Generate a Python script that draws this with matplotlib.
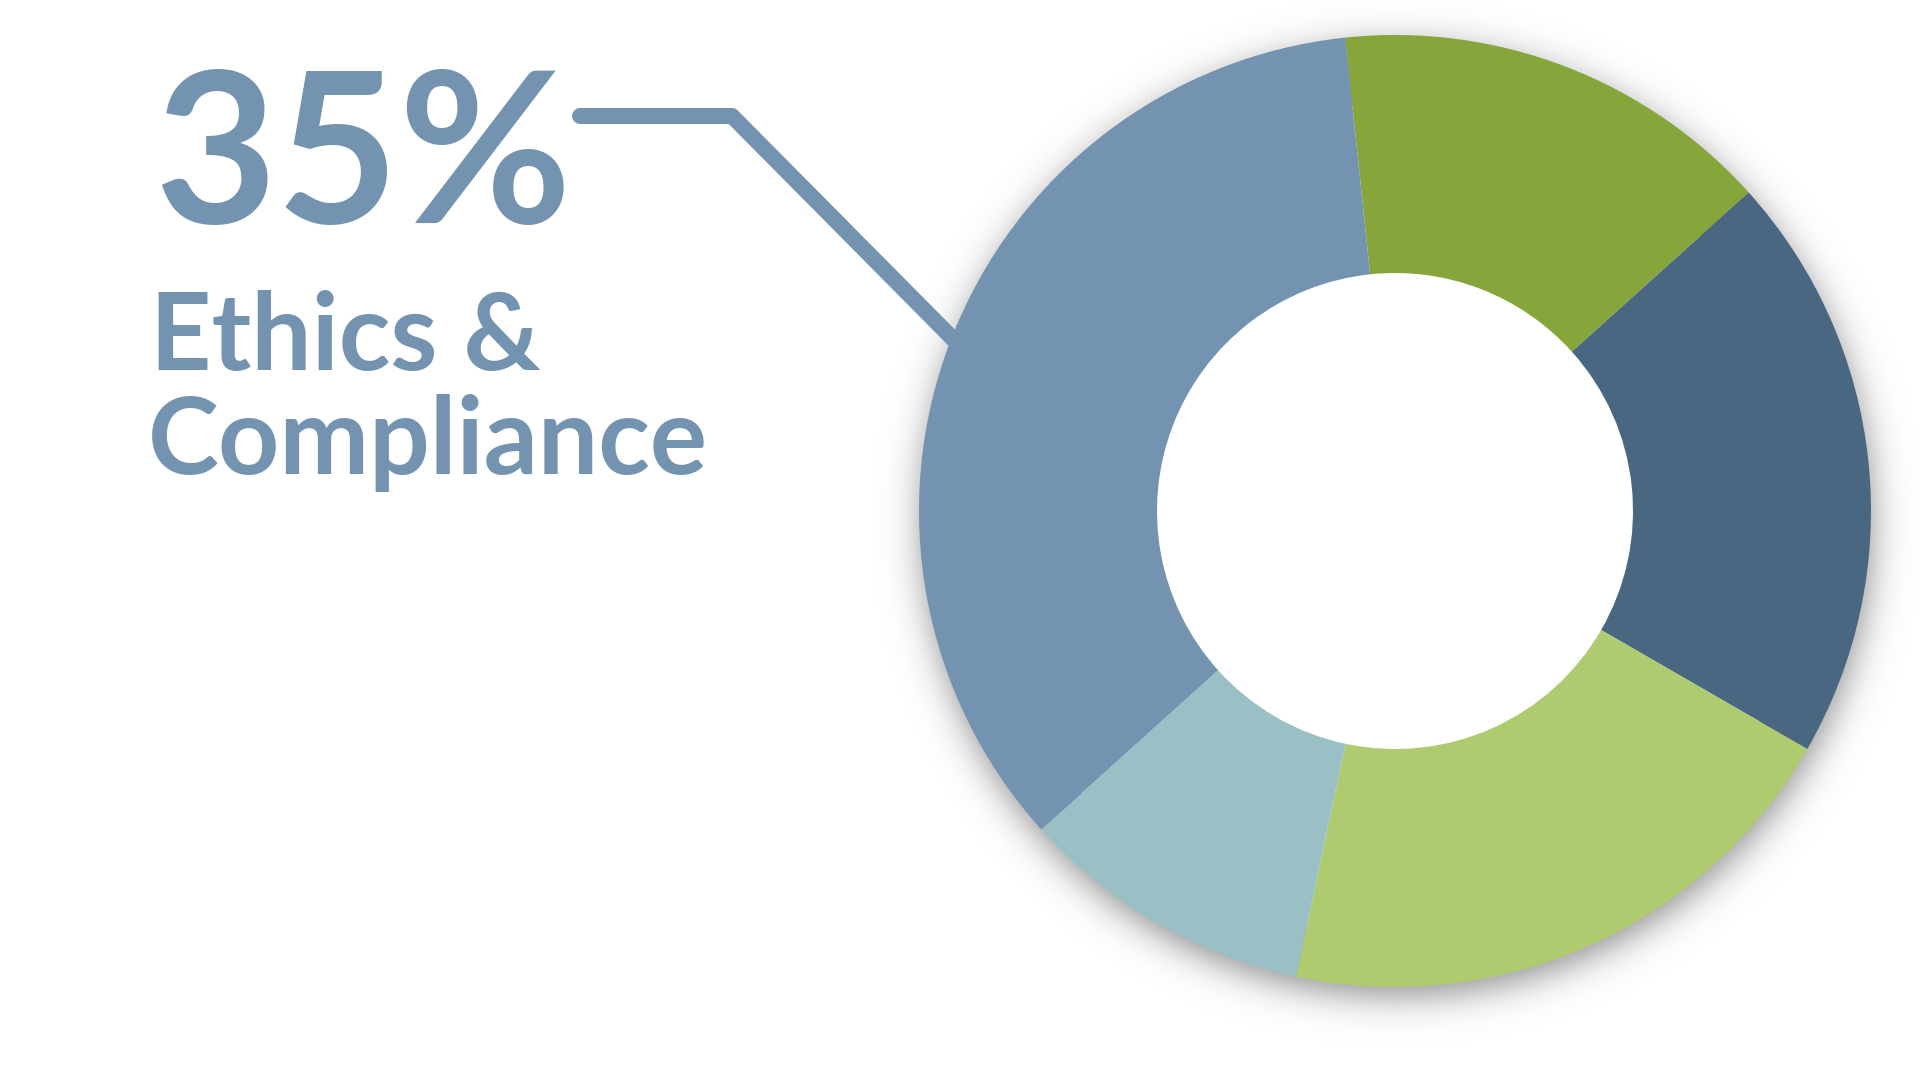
import numpy as np
import matplotlib
matplotlib.use("Agg")
import matplotlib.pyplot as plt

# -------------------------------
# Datos
# -------------------------------
valores = [15, 20, 20, 10, 35]
colores = ["#86A63C", "#4A6782", "#AFCB6F", "#9ABFC4", "#7493B0"]
destacado = "35%"
etiqueta = ["Ethics &", "Compliance"]

W, H = 1920, 1080
cx, cy, R = 1395, 511, 476          # centro y radio del donut (px)
color_texto = "#7493B0"

fig = plt.figure(figsize=(W / 100, H / 100), dpi=100)
fig.patch.set_facecolor("white")

# -------------------------------
# Fondo: sombra, línea y textos
# -------------------------------
fondo = fig.add_axes([0, 0, 1, 1], zorder=0)
fondo.set_xlim(0, W)
fondo.set_ylim(H, 0)
fondo.axis("off")

yy, xx = np.mgrid[0:H, 0:W] + 0.5
d = np.hypot(xx - (cx + 2), yy - (cy + 10))
sigma = 18.0
alpha = 0.42 / (1 + np.exp(1.7 * (d - R) / sigma))
alpha[d < R - 60] = 0          # el agujero del donut queda blanco
sombra = np.zeros((H, W, 4))
sombra[..., 3] = alpha
fondo.imshow(sombra, extent=(0, W, H, 0), interpolation="bilinear", zorder=1)

# línea de llamada
fondo.plot([580, 732, 965], [116, 116, 351], color=color_texto, lw=11.5,
           solid_capstyle="round", solid_joinstyle="round", zorder=2)

fondo.text(154, 223, destacado, fontsize=152, fontweight="bold", family="Lato",
           color=color_texto, ha="left", va="baseline", zorder=3)
fondo.text(150, 370, etiqueta[0], fontsize=77, fontweight="bold", family="Lato",
           color=color_texto, ha="left", va="baseline", zorder=3)
fondo.text(148, 474, etiqueta[1], fontsize=77, fontweight="bold", family="Lato",
           color=color_texto, ha="left", va="baseline", zorder=3)

# -------------------------------
# Donut
# -------------------------------
ax = fig.add_axes([(cx - R) / W, (H - cy - R) / H, 2 * R / W, 2 * R / H], zorder=1)
ax.pie(valores, colors=colores, startangle=96, counterclock=False, radius=1,
       wedgeprops=dict(width=0.5, linewidth=0))
ax.set_xlim(-1, 1)
ax.set_ylim(-1, 1)
ax.set_aspect("equal")
ax.axis("off")

fig.savefig("out.png", dpi=100, facecolor="white")
